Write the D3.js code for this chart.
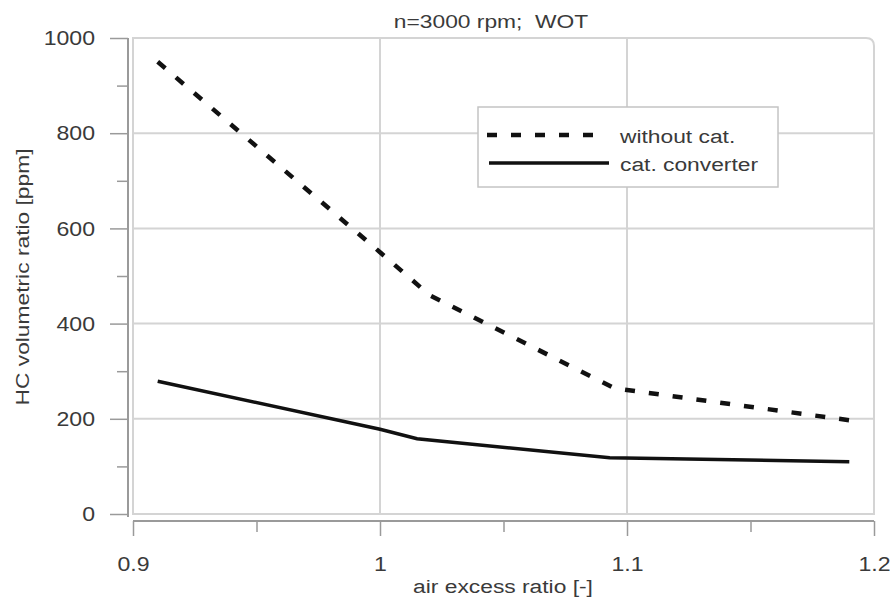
<!DOCTYPE html>
<html><head><meta charset="utf-8">
<script src="https://cdn.jsdelivr.net/npm/d3@7"></script>
<style>body{margin:0;background:#fff}svg{display:block}text{font-family:"Liberation Sans",Arial,sans-serif;fill:#3a3a3a;white-space:pre}</style>
</head><body><svg id="c" width="890" height="599"></svg>
<script>
const xTicks = [0.9, 1.0, 1.1, 1.2];
const xTickLabels = ["0.9", "1", "1.1", "1.2"];
const xMinor = [0.95, 1.05, 1.15];
const yTicks = [0, 200, 400, 600, 800, 1000];
const yMinor = [100, 300, 500, 700, 900];
const withoutCatX = [0.91, 1.0, 1.02, 1.095, 1.19];
const withoutCatY = [950, 550, 460, 264, 197];
const catConvX = [0.91, 1.0, 1.015, 1.093, 1.19];
const catConvY = [279, 178, 158, 118, 110];
const seriesNames = ["without cat.", "cat. converter"];
const title = "n=3000 rpm;  WOT";
const xLabel = "air excess ratio [-]";
const yLabel = "HC volumetric ratio [ppm]";

const svg = d3.select("#c");
const L = 133, R = 874, T = 38, B = 514;
const x = d3.scaleLinear().domain([0.9, 1.2]).range([L, R]);
const y = d3.scaleLinear().domain([0, 1000]).range([B, T]);
const SX = 1.2, TSX = 1.1;

// grid
const g = svg.append("g");
g.selectAll(".hg").data(yTicks.filter(d => d > 0 && d < 1000)).join("line")
  .attr("x1", L).attr("x2", R).attr("y1", d => y(d)).attr("y2", d => y(d))
  .attr("stroke", "#d4d4d4").attr("stroke-width", 2);
g.selectAll(".vg").data(xTicks.filter(d => d > 0.9 && d < 1.2)).join("line")
  .attr("y1", T).attr("y2", B).attr("x1", d => x(d)).attr("x2", d => x(d))
  .attr("stroke", "#d4d4d4").attr("stroke-width", 2);
g.append("path")
  .attr("d", `M${L},${B}V${T}H${R-8}Q${R},${T} ${R},${T+8}V${B}Z`)
  .attr("fill", "none").attr("stroke", "#d4d4d4").attr("stroke-width", 2);

// axes
const yAxisX = 128, xAxisY = 521;
const ya = svg.append("g").attr("transform", `translate(${yAxisX},0)`);
ya.call(d3.axisLeft(y).tickValues(yTicks).tickSize(18).tickPadding(15).tickFormat(d3.format("d")));
ya.append("g").call(d3.axisLeft(y).tickValues(yMinor).tickSize(11).tickFormat(""));
ya.selectAll(".domain").attr("stroke", "#9a9a9a").attr("stroke-width", 2).attr("d", `M0,${T}V${xAxisY-4}`);
ya.selectAll(".tick line").attr("stroke", "#9a9a9a").attr("stroke-width", 1.5);
ya.selectAll(".tick text").attr("font-size", 21).attr("fill", "#3a3a3a")
  .attr("font-family", "Liberation Sans, Arial, sans-serif")
  .attr("x", -33 / TSX).attr("transform", `scale(${TSX},1)`);

const xa = svg.append("g").attr("transform", `translate(0,${xAxisY})`);
xa.call(d3.axisBottom(x).tickValues(xTicks).tickSize(15).tickPadding(20).tickFormat((d, i) => xTickLabels[i]));
xa.append("g").call(d3.axisBottom(x).tickValues(xMinor).tickSize(11).tickFormat(""));
xa.selectAll(".domain").attr("stroke", "#9a9a9a").attr("stroke-width", 2).attr("d", `M${L},0H${R}`);
xa.selectAll(".tick line").attr("stroke", "#9a9a9a").attr("stroke-width", 1.5);
xa.selectAll(".tick text").attr("font-size", 21).attr("fill", "#3a3a3a")
  .attr("font-family", "Liberation Sans, Arial, sans-serif").attr("transform", `scale(${TSX},1)`);

// lines
const line = d3.line().x(d => x(d[0])).y(d => y(d[1]));
svg.append("path").datum(withoutCatX.map((v, i) => [v, withoutCatY[i]]))
  .attr("d", line).attr("fill", "none").attr("stroke", "#111").attr("stroke-width", 4.5)
  .attr("stroke-dasharray", "10,14");
svg.append("path").datum(catConvX.map((v, i) => [v, catConvY[i]]))
  .attr("d", line).attr("fill", "none").attr("stroke", "#111").attr("stroke-width", 3.5);

function txt(xp, yp, s, size, anchor, rot) {
  return svg.append("text").attr("transform", `translate(${xp},${yp})${rot ? " rotate(-90)" : ""} scale(${SX},1)`)
    .attr("text-anchor", anchor).attr("font-size", size).text(s);
}

// legend
const lg = svg.append("g");
lg.append("rect").attr("x", 478).attr("y", 107).attr("width", 300).attr("height", 80)
  .attr("fill", "#fff").attr("stroke", "#c4c4c4").attr("stroke-width", 1.5);
lg.append("line").attr("x1", 487).attr("x2", 605).attr("y1", 135).attr("y2", 135)
  .attr("stroke", "#111").attr("stroke-width", 4.5).attr("stroke-dasharray", "10,14");
lg.append("line").attr("x1", 489).attr("x2", 609).attr("y1", 163).attr("y2", 163)
  .attr("stroke", "#111").attr("stroke-width", 3.5);
txt(620, 143, seriesNames[0], 19, "start");
txt(620, 171, seriesNames[1], 19, "start");

// titles
txt(491, 28, title, 19, "middle");
txt(503, 593, xLabel, 19, "middle");
txt(29, 277, yLabel, 19, "middle", true);
</script></body></html>
